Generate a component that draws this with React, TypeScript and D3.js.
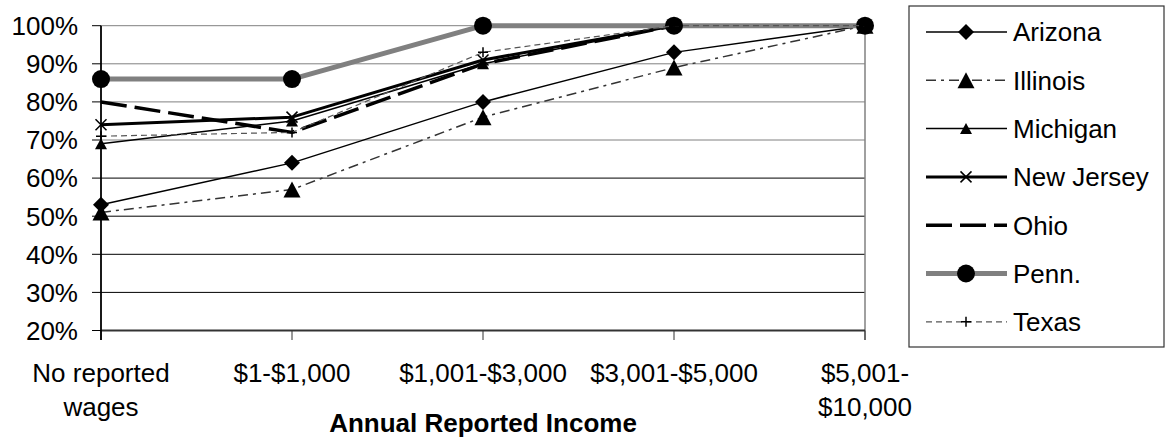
import React from "react";
import * as d3 from "d3";

// Income brackets on the x axis ("\n" marks a line break in the label)
const incomeBrackets = [
  "No reported\nwages",
  "$1-$1,000",
  "$1,001-$3,000",
  "$3,001-$5,000",
  "$5,001-\n$10,000",
];

// Percent values per state, one entry per income bracket
const arizona = [53, 64, 80, 93, 100];
const illinois = [51, 57, 76, 89, 100];
const michigan = [69, 75, 90, 100, 100];
const newJersey = [74, 76, 91, 100, 100];
const ohio = [80, 72, 90, 100, 100];
const penn = [86, 86, 100, 100, 100];
const texas = [71, 72, 93, 100, 100];

const stateNames = ["Arizona", "Illinois", "Michigan", "New Jersey", "Ohio", "Penn.", "Texas"];

const yTicks = [20, 30, 40, 50, 60, 70, 80, 90, 100];

type Marker = "diamond" | "triangle" | "smallTriangle" | "cross" | "none" | "circle" | "plus";

interface SeriesStyle {
  color: string;
  width: number;
  dash?: string;
  marker: Marker;
}

const styles: SeriesStyle[] = [
  { color: "#000", width: 1.5, marker: "diamond" },
  { color: "#333", width: 1.5, dash: "10 5 3 5", marker: "triangle" },
  { color: "#000", width: 1.5, marker: "smallTriangle" },
  { color: "#000", width: 3, marker: "cross" },
  { color: "#000", width: 3.5, dash: "26 8", marker: "none" },
  { color: "#808080", width: 5, marker: "circle" },
  { color: "#555", width: 1.2, dash: "6 4", marker: "plus" },
];

const FONT = "'Liberation Sans', Arial, sans-serif";

function MarkerShape({ kind, x, y }: { kind: Marker; x: number; y: number }) {
  switch (kind) {
    case "diamond":
      return <path d={`M${x},${y - 8} L${x + 8},${y} L${x},${y + 8} L${x - 8},${y} Z`} fill="#000" />;
    case "triangle":
      return <path d={`M${x},${y - 8} L${x + 8.5},${y + 8} L${x - 8.5},${y + 8} Z`} fill="#000" />;
    case "smallTriangle":
      return <path d={`M${x},${y - 5.5} L${x + 6},${y + 5.5} L${x - 6},${y + 5.5} Z`} fill="#000" />;
    case "cross":
      return (
        <path
          d={`M${x - 5.5},${y - 5.5} L${x + 5.5},${y + 5.5} M${x + 5.5},${y - 5.5} L${x - 5.5},${y + 5.5}`}
          stroke="#000"
          strokeWidth={1.5}
          fill="none"
        />
      );
    case "circle":
      return <circle cx={x} cy={y} r={9} fill="#000" />;
    case "plus":
      return (
        <path
          d={`M${x - 5},${y} L${x + 5},${y} M${x},${y - 5} L${x},${y + 5}`}
          stroke="#000"
          strokeWidth={1.5}
          fill="none"
        />
      );
    default:
      return null;
  }
}

export default function App() {
  const width = 1167;
  const height = 439;
  const series = [arizona, illinois, michigan, newJersey, ohio, penn, texas];

  const x = d3.scalePoint<string>().domain(incomeBrackets).range([101, 865]).padding(0);
  const y = d3.scaleLinear().domain([20, 100]).range([330.5, 25.7]);

  const line = d3
    .line<number>()
    .x((_, i) => x(incomeBrackets[i]) as number)
    .y((d) => y(d));

  const legendX = 909;
  const legendRow0 = 32;
  const legendStep = 48.3;

  return (
    <svg
      width={width}
      height={height}
      style={{ position: "absolute", left: 0, top: 0, background: "#fff" }}
      fontFamily={FONT}
    >
      <rect x={0} y={0} width={width} height={height} fill="#fff" />

      {/* horizontal gridlines */}
      {yTicks
        .filter((t) => t > 20)
        .map((t) => (
          <line
            key={`g${t}`}
            x1={101}
            x2={865}
            y1={y(t)}
            y2={y(t)}
            stroke={t >= 70 ? "#808080" : "#000"}
            strokeWidth={1}
          />
        ))}

      {/* right border of the plot */}
      <line x1={865} x2={865} y1={y(100)} y2={340} stroke="#808080" strokeWidth={1.5} />

      {/* x axis */}
      <line x1={101} x2={865} y1={y(20)} y2={y(20)} stroke="#333" strokeWidth={1.8} />
      {incomeBrackets.map((c) => (
        <line key={`xt${c}`} x1={x(c)} x2={x(c)} y1={y(20)} y2={340} stroke="#333" strokeWidth={1} />
      ))}

      {/* y axis */}
      <line x1={101} x2={101} y1={y(100)} y2={340} stroke="#000" strokeWidth={1.8} />
      {yTicks.map((t) => (
        <g key={`yt${t}`}>
          <line x1={92} x2={101} y1={y(t)} y2={y(t)} stroke="#000" strokeWidth={1} />
          <text x={78} y={y(t)} dy="0.36em" textAnchor="end" fontSize={26} fill="#000">
            {`${t}%`}
          </text>
        </g>
      ))}

      {/* x tick labels */}
      {incomeBrackets.map((c) => (
        <text key={`xl${c}`} x={x(c)} y={382} textAnchor="middle" fontSize={26} fill="#000">
          {c.split("\n").map((part, i) => (
            <tspan key={i} x={x(c)} y={382 + i * 34}>
              {part}
            </tspan>
          ))}
        </text>
      ))}

      <text x={483} y={432} textAnchor="middle" fontSize={26} fontWeight="bold" fill="#000">
        Annual Reported Income
      </text>

      {/* series lines and markers */}
      {series.map((vals, si) => {
        const s = styles[si];
        return (
          <g key={`s${si}`}>
            <path
              d={line(vals) as string}
              fill="none"
              stroke={s.color}
              strokeWidth={s.width}
              strokeDasharray={s.dash}
              strokeLinejoin="round"
            />
            {vals.map((v, i) => (
              <MarkerShape key={i} kind={s.marker} x={x(incomeBrackets[i]) as number} y={y(v)} />
            ))}
          </g>
        );
      })}

      {/* legend */}
      <rect x={legendX} y={6} width={255} height={341} fill="#fff" stroke="#333" strokeWidth={1.2} />
      {stateNames.map((name, i) => {
        const s = styles[i];
        const cy = legendRow0 + i * legendStep;
        return (
          <g key={`l${name}`}>
            <line
              x1={926}
              x2={1007}
              y1={cy}
              y2={cy}
              stroke={s.color}
              strokeWidth={s.width}
              strokeDasharray={s.dash}
            />
            <MarkerShape kind={s.marker} x={966} y={cy} />
            <text x={1013} y={cy} dy="0.36em" fontSize={26} fill="#000">
              {name}
            </text>
          </g>
        );
      })}
    </svg>
  );
}
